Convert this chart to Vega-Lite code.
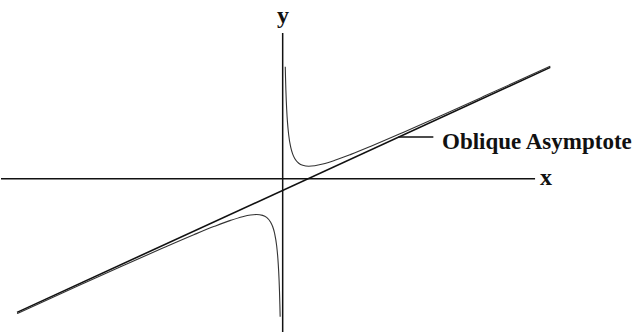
{
  "$schema": "https://vega.github.io/schema/vega-lite/v6.json",
  "width": 643,
  "height": 333,
  "autosize": {"type": "fit", "contains": "padding"},
  "padding": 0,
  "background": "white",
  "config": {"view": {"stroke": null}},
  "datasets": {
    "curve": [
      {"x": -6.62, "y": -3.364, "branch": "left"},
      {"x": -5, "y": -2.6284, "branch": "left"},
      {"x": -4, "y": -2.1783, "branch": "left"},
      {"x": -3, "y": -1.7347, "branch": "left"},
      {"x": -2.2, "y": -1.3905, "branch": "left"},
      {"x": -1.7, "y": -1.1869, "branch": "left"},
      {"x": -1.3, "y": -1.0385, "branch": "left"},
      {"x": -1.0, "y": -0.946, "branch": "left"},
      {"x": -0.8, "y": -0.9033, "branch": "left"},
      {"x": -0.65, "y": -0.8911, "branch": "left"},
      {"x": -0.5, "y": -0.913, "branch": "left"},
      {"x": -0.4, "y": -0.9655, "branch": "left"},
      {"x": -0.3, "y": -1.0837, "branch": "left"},
      {"x": -0.25, "y": -1.192, "branch": "left"},
      {"x": -0.2, "y": -1.366, "branch": "left"},
      {"x": -0.15, "y": -1.6713, "branch": "left"},
      {"x": -0.12, "y": -1.9859, "branch": "left"},
      {"x": -0.1, "y": -2.305, "branch": "left"},
      {"x": -0.08, "y": -2.7883, "branch": "left"},
      {"x": -0.07, "y": -3.1355, "branch": "left"},
      {"x": -0.063, "y": -3.445, "branch": "left"},
      {"x": 0.0645, "y": 2.795, "branch": "right"},
      {"x": 0.07, "y": 2.5575, "branch": "right"},
      {"x": 0.08, "y": 2.2103, "branch": "right"},
      {"x": 0.1, "y": 1.727, "branch": "right"},
      {"x": 0.12, "y": 1.4079, "branch": "right"},
      {"x": 0.15, "y": 1.0933, "branch": "right"},
      {"x": 0.2, "y": 0.788, "branch": "right"},
      {"x": 0.25, "y": 0.614, "branch": "right"},
      {"x": 0.3, "y": 0.5057, "branch": "right"},
      {"x": 0.4, "y": 0.3875, "branch": "right"},
      {"x": 0.5, "y": 0.335, "branch": "right"},
      {"x": 0.65, "y": 0.3131, "branch": "right"},
      {"x": 0.8, "y": 0.3253, "branch": "right"},
      {"x": 1.0, "y": 0.368, "branch": "right"},
      {"x": 1.3, "y": 0.4605, "branch": "right"},
      {"x": 1.7, "y": 0.6089, "branch": "right"},
      {"x": 2.2, "y": 0.8125, "branch": "right"},
      {"x": 3, "y": 1.1567, "branch": "right"},
      {"x": 4, "y": 1.6003, "branch": "right"},
      {"x": 5, "y": 2.0504, "branch": "right"},
      {"x": 6.67, "y": 2.8087, "branch": "right"}
    ],
    "asymptote": [
      {"x": -6.62, "y": -3.3342},
      {"x": 6.67, "y": 2.7792}
    ],
    "rules": [
      {"x1": -7.02, "x2": 6.29, "y1": 0, "y2": 0, "kind": "xaxis"},
      {"x1": 0, "x2": 0, "y1": -3.824, "y2": 3.64, "kind": "yaxis"},
      {"x1": 2.884, "x2": 3.755, "y1": 1.045, "y2": 1.045, "kind": "leader"}
    ],
    "axisLabels": [
      {"x": 0.01, "y": 3.887, "text": "y"},
      {"x": 6.56, "y": -0.167, "text": "x"}
    ],
    "annotation": [
      {"x": 3.971, "y": 0.746, "text": "Oblique Asymptote"}
    ]
  },
  "layer": [
    {
      "data": {"name": "rules"},
      "mark": {"type": "rule", "color": "#111111", "strokeWidth": 1.5},
      "encoding": {
        "x": {"field": "x1", "type": "quantitative", "scale": {"domain": [-7.02, 8.98], "nice": false, "zero": false}, "axis": null},
        "x2": {"field": "x2"},
        "y": {"field": "y1", "type": "quantitative", "scale": {"domain": [-3.824, 4.461], "nice": false, "zero": false}, "axis": null},
        "y2": {"field": "y2"}
      }
    },
    {
      "data": {"name": "asymptote"},
      "mark": {"type": "line", "color": "#111111", "strokeWidth": 1.6},
      "encoding": {
        "x": {"field": "x", "type": "quantitative"},
        "y": {"field": "y", "type": "quantitative"}
      }
    },
    {
      "data": {"name": "curve"},
      "mark": {"type": "line", "color": "#333333", "strokeWidth": 1.1, "interpolate": "monotone"},
      "encoding": {
        "x": {"field": "x", "type": "quantitative"},
        "y": {"field": "y", "type": "quantitative"},
        "detail": {"field": "branch"}
      }
    },
    {
      "data": {"name": "axisLabels"},
      "mark": {"type": "text", "font": "Liberation Serif", "fontWeight": "bold", "fontSize": 24, "color": "#111111", "baseline": "alphabetic", "align": "center"},
      "encoding": {
        "x": {"field": "x", "type": "quantitative"},
        "y": {"field": "y", "type": "quantitative"},
        "text": {"field": "text"}
      }
    },
    {
      "data": {"name": "annotation"},
      "mark": {"type": "text", "font": "Liberation Serif", "fontWeight": "bold", "fontSize": 23, "color": "#111111", "baseline": "alphabetic", "align": "left"},
      "encoding": {
        "x": {"field": "x", "type": "quantitative"},
        "y": {"field": "y", "type": "quantitative"},
        "text": {"field": "text"}
      }
    }
  ]
}
